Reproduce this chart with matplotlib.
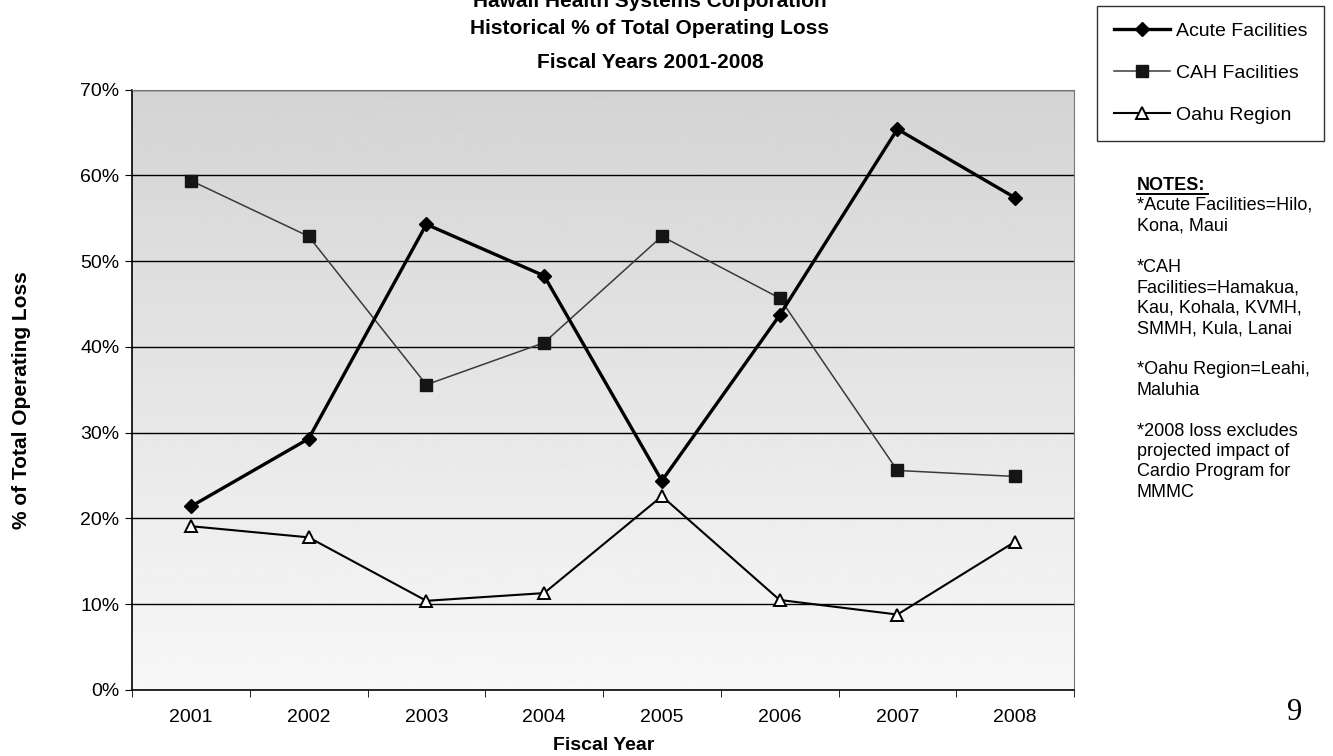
import matplotlib
matplotlib.use("Agg")
import matplotlib.pyplot as plt
from matplotlib.lines import Line2D
import numpy as np

# Share of total operating loss (%) by facility group
years = ["2001", "2002", "2003", "2004", "2005", "2006", "2007", "2008"]
acute = [21.4, 29.3, 54.3, 48.3, 24.4, 43.7, 65.4, 57.4]
cah = [59.4, 52.9, 35.6, 40.5, 52.9, 45.7, 25.6, 24.9]
oahu = [19.1, 17.8, 10.4, 11.3, 22.6, 10.5, 8.8, 17.3]
yticks = [0, 10, 20, 30, 40, 50, 60, 70]

notes = ["*Acute Facilities=Hilo,", "Kona, Maui", "",
         "*CAH", "Facilities=Hamakua,", "Kau, Kohala, KVMH,", "SMMH, Kula, Lanai", "",
         "*Oahu Region=Leahi,", "Maluhia", "",
         "*2008 loss excludes", "projected impact of", "Cardio Program for", "MMMC"]

plt.rcParams['font.family'] = ['Liberation Sans', 'DejaVu Sans']

W, H = 1333, 756
fig = plt.figure(figsize=(W / 100, H / 100), dpi=100)

def fx(px):
    return px / W

def fy(py):
    return 1 - py / H

ax = fig.add_axes([fx(132), fy(690), fx(1074 - 132), (690 - 89.7) / H])
x = np.arange(1, len(years) + 1)

# gray fill of the plot area, darker at the top
grad = np.linspace(0.97, 0.83, 256).reshape(-1, 1)
ax.imshow(grad, extent=[0.5, 8.5, 0, 70], origin='lower', aspect='auto',
          cmap='gray', vmin=0, vmax=1, zorder=0)

for v in yticks[1:]:
    ax.axhline(v, color='black', lw=1.0, zorder=1)

ax.plot(x, acute, color='black', lw=2.4, marker='D', ms=7.5, zorder=4,
        label='Acute Facilities')
ax.plot(x, cah, color='#3a3a3a', lw=1.1, marker='s', ms=9, mfc='#151515',
        mec='#151515', zorder=3, label='CAH Facilities')
ax.plot(x, oahu, color='black', lw=1.5, marker='^', ms=9, mfc='white',
        mec='black', mew=1.4, zorder=5, label='Oahu Region')

ax.set_xlim(0.5, 8.5)
ax.set_ylim(0, 70)
ax.set_yticks(yticks)
ax.set_yticklabels([f"{v}%" for v in yticks], fontsize=14)
ax.set_xticks(x)
ax.set_xticklabels(years, fontsize=14)
ax.set_xticks(np.arange(0.5, 9.0, 1.0), minor=True)
ax.tick_params(axis='x', which='major', length=0, pad=14)
ax.tick_params(axis='x', which='minor', length=5, direction='out')
ax.tick_params(axis='y', length=5, direction='out', pad=4)

for side in ['left', 'bottom']:
    ax.spines[side].set_color('black')
    ax.spines[side].set_linewidth(1.2)
for side in ['top', 'right']:
    ax.spines[side].set_color('#777777')
    ax.spines[side].set_linewidth(0.8)

# titles and axis labels
fig.text(fx(650), fy(7), "Hawaii Health Systems Corporation", ha='center',
         va='baseline', fontsize=15, fontweight='bold')
fig.text(fx(650), fy(34), "Historical % of Total Operating Loss", ha='center',
         va='baseline', fontsize=15, fontweight='bold')
fig.text(fx(650), fy(68), "Fiscal Years 2001-2008", ha='center',
         va='baseline', fontsize=15, fontweight='bold')
fig.text(fx(22), fy(400), "% of Total Operating Loss", rotation=90,
         ha='center', va='center', fontsize=15, fontweight='bold')
fig.text(fx(604), fy(745), "Fiscal Year", ha='center', va='center',
         fontsize=14, fontweight='bold')

leg = fig.legend(loc='upper right', bbox_to_anchor=(fx(1324), fy(6)),
                 fontsize=14, frameon=True, fancybox=False, shadow=False,
                 handlelength=2.9, handletextpad=0.3, labelspacing=1.25,
                 borderpad=0.85, borderaxespad=0)
leg.get_frame().set_edgecolor('black')
leg.get_frame().set_linewidth(1.0)

# notes under the legend
fig.text(fx(1137), fy(185), "NOTES:", ha='left', va='center', fontsize=13,
         fontweight='bold')
fig.add_artist(Line2D([fx(1137), fx(1208)], [fy(194), fy(194)],
                      color='black', lw=1.4, transform=fig.transFigure))
for i, line in enumerate(notes):
    if line:
        fig.text(fx(1137), fy(205.5 + i * 20.5), line, ha='left',
                 va='center', fontsize=13)

fig.text(fx(1295), fy(712), "9", ha='center', va='center', fontsize=22,
         family=['Liberation Serif', 'DejaVu Serif'])

fig.savefig("out.png", dpi=100)
